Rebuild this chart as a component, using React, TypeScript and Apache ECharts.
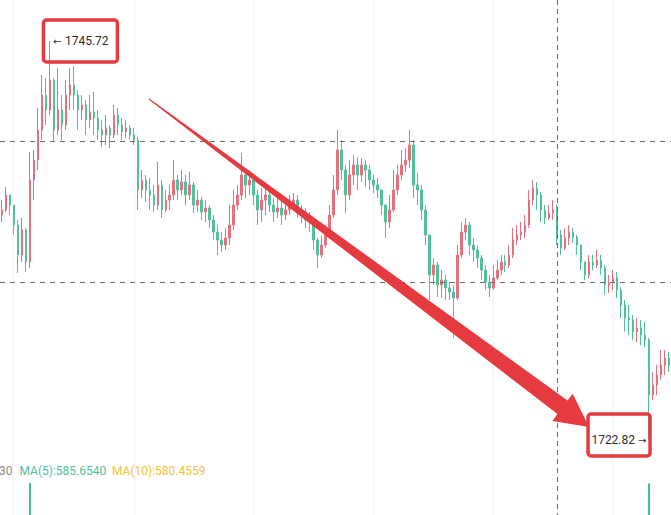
import React, { useEffect, useRef } from "react";
import * as echarts from "echarts";

// ---- data ----
const firstOpen = 1735.71;
const closes = [
  1736.0, 1736.86, 1736.28, 1735.13, 1733.41, 1734.85, 1733.01, 1737.72, 1738.87, 1740.6,
  1742.61, 1741.75, 1743.48, 1740.6, 1741.75, 1740.89, 1742.61, 1743.19, 1742.61, 1741.75,
  1742.04, 1741.18, 1741.64, 1741.29, 1740.6, 1740.31, 1740.72, 1740.31, 1741.46, 1740.89,
  1740.49, 1740.72, 1740.31, 1740.02, 1737.15, 1737.72, 1737.15, 1736.86, 1736.28, 1737.44,
  1736.0, 1736.57, 1736.86, 1737.72, 1737.15, 1737.61, 1736.86, 1737.44, 1736.28, 1736.57,
  1735.88, 1736.11, 1735.42, 1734.73, 1734.27, 1733.98, 1734.39, 1735.13, 1736.28, 1736.86,
  1738.01, 1737.44, 1737.72, 1736.86, 1736.0, 1736.57, 1736.86, 1736.28, 1735.88, 1736.11,
  1735.71, 1736.0, 1736.28, 1736.57, 1736.0, 1735.71, 1735.42, 1735.31, 1734.27, 1733.41,
  1733.98, 1734.56, 1735.71, 1737.15, 1739.45, 1738.3, 1736.86, 1738.01, 1738.59, 1738.01,
  1738.59, 1738.3, 1737.72, 1737.44, 1737.15, 1736.28, 1735.31, 1736.0, 1737.15, 1738.01,
  1738.59, 1738.87, 1739.74, 1737.44, 1737.15, 1736.0, 1734.56, 1732.26, 1732.83, 1731.68,
  1731.97, 1731.51, 1731.28, 1730.93, 1733.41, 1734.73, 1735.13, 1733.98, 1733.7, 1733.23,
  1732.54, 1731.85, 1731.51, 1732.08, 1732.54, 1733.01, 1732.83, 1733.41, 1734.27, 1734.56,
  1734.73, 1735.13, 1736.57, 1737.26, 1736.86, 1736.0, 1735.54, 1735.82, 1736.0, 1734.56,
  1733.81, 1734.39, 1734.73, 1734.44, 1733.98, 1733.01, 1732.26, 1733.01, 1732.83, 1733.12,
  1732.66, 1731.68, 1731.8, 1732.08, 1731.39, 1730.53, 1729.78, 1729.67, 1728.98, 1729.21,
  1728.8, 1728.52, 1725.35, 1725.93, 1726.5, 1727.08, 1727.48, 1727.08,
];
const highs = [
  1736.57, 1737.32, 1736.86, 1736.28, 1735.42, 1735.54, 1734.96, 1739.33, 1739.45, 1741.87,
  1743.76, 1743.59, 1745.72, 1743.59, 1744.17, 1742.61, 1743.48, 1744.17, 1744.28, 1742.9,
  1742.61, 1742.33, 1742.61, 1742.79, 1741.75, 1741.18, 1741.46, 1740.89, 1742.04, 1741.87,
  1741.29, 1741.18, 1740.89, 1740.72, 1740.2, 1738.3, 1738.01, 1737.84, 1737.44, 1738.76,
  1737.72, 1737.15, 1737.44, 1738.87, 1738.01, 1738.3, 1738.01, 1738.18, 1737.61, 1737.15,
  1736.75, 1736.57, 1736.28, 1735.71, 1735.13, 1734.73, 1734.96, 1736.28, 1737.15, 1737.44,
  1739.28, 1738.41, 1738.3, 1737.84, 1737.15, 1737.26, 1737.44, 1737.15, 1736.69, 1736.86,
  1736.57, 1736.69, 1736.86, 1736.97, 1736.86, 1736.28, 1736.11, 1735.88, 1735.54, 1734.39,
  1734.5, 1735.13, 1736.28, 1738.01, 1740.6, 1740.02, 1738.59, 1738.87, 1739.16, 1739.05,
  1738.99, 1738.87, 1738.59, 1738.01, 1737.84, 1737.15, 1736.28, 1736.86, 1738.3, 1738.59,
  1739.45, 1739.56, 1740.6, 1740.02, 1738.13, 1737.44, 1736.28, 1734.56, 1733.23, 1733.01,
  1732.54, 1732.26, 1731.85, 1731.68, 1733.98, 1735.31, 1735.54, 1735.31, 1734.39, 1733.98,
  1733.41, 1732.83, 1732.26, 1732.83, 1733.12, 1733.41, 1733.41, 1733.98, 1734.96, 1735.13,
  1735.31, 1735.71, 1737.15, 1737.72, 1737.61, 1737.03, 1736.28, 1736.28, 1736.57, 1736.28,
  1734.85, 1734.96, 1735.13, 1734.96, 1734.56, 1733.98, 1733.01, 1733.41, 1733.41, 1733.7,
  1733.41, 1732.83, 1732.26, 1732.54, 1732.43, 1731.57, 1730.82, 1730.53, 1729.96, 1729.78,
  1729.67, 1729.55, 1728.63, 1726.68, 1727.08, 1727.94, 1727.94, 1727.83,
];
const lows = [
  1735.31, 1735.88, 1735.71, 1734.56, 1732.37, 1733.01, 1732.43, 1732.66, 1736.57, 1738.3,
  1740.02, 1740.89, 1741.46, 1739.91, 1740.31, 1740.02, 1740.6, 1741.75, 1741.75, 1740.6,
  1741.18, 1740.31, 1740.72, 1740.31, 1740.02, 1739.62, 1739.74, 1739.56, 1740.14, 1740.31,
  1740.02, 1740.14, 1740.02, 1739.74, 1736.0, 1736.69, 1736.46, 1736.0, 1735.88, 1736.0,
  1735.54, 1735.88, 1736.0, 1736.57, 1736.57, 1736.86, 1736.28, 1736.57, 1735.82, 1735.88,
  1735.42, 1735.31, 1734.96, 1734.27, 1733.41, 1733.58, 1733.7, 1733.98, 1734.85, 1736.0,
  1736.57, 1736.69, 1736.86, 1736.28, 1735.13, 1735.31, 1735.71, 1735.88, 1735.31, 1735.54,
  1735.13, 1735.42, 1735.71, 1736.0, 1735.54, 1735.25, 1734.96, 1734.73, 1733.7, 1732.66,
  1733.23, 1733.81, 1734.39, 1735.54, 1736.86, 1737.72, 1735.82, 1736.57, 1737.44, 1737.15,
  1737.61, 1737.32, 1737.15, 1736.97, 1736.69, 1735.71, 1734.39, 1734.96, 1735.88, 1736.86,
  1737.72, 1738.18, 1738.41, 1736.69, 1736.28, 1735.42, 1733.98, 1730.82, 1731.68, 1730.99,
  1730.93, 1730.82, 1730.82, 1728.63, 1730.82, 1733.23, 1734.27, 1733.41, 1733.01, 1732.66,
  1731.97, 1731.39, 1730.99, 1731.39, 1731.97, 1732.26, 1732.43, 1732.66, 1733.23, 1733.98,
  1734.27, 1734.39, 1734.96, 1736.28, 1736.0, 1735.31, 1735.19, 1735.42, 1735.42, 1733.98,
  1733.41, 1733.7, 1733.98, 1734.1, 1733.41, 1732.54, 1731.97, 1732.08, 1732.54, 1732.66,
  1732.26, 1731.11, 1731.22, 1731.39, 1730.93, 1729.78, 1728.98, 1728.8, 1728.52, 1728.4,
  1728.23, 1728.11, 1722.82, 1725.06, 1725.35, 1726.22, 1726.5, 1726.68,
];
const categories = closes.map((_, i) => String(i + 1));
const levelLines = [1739.97, 1731.85];
const crosshairIndex = 139;
const maxIndex = 12;
const minIndex = 162;
const maxLabel = "1745.72";
const minLabel = "1722.82";
const volumeBars = [
  [7, 1000],
  [162, 990],
];
const legendParts = [
  { text: "30", color: "#8c8c8c" },
  { text: "MA(5):585.6540", color: "#4fc29e" },
  { text: "MA(10):580.4559", color: "#f2c23c" },
];

const UP = "#e7707f";
const DOWN = "#4fc29b";
const RED = "#e53a3f";

function buildCandles() {
  return closes.map((c, i) => {
    const o = i === 0 ? firstOpen : closes[i - 1];
    return [o, c, lows[i], highs[i]];
  });
}

export default function App() {
  const ref = useRef<HTMLDivElement>(null);
  useEffect(() => {
    document.body.style.margin = "0";
    const chart = echarts.init(ref.current!, undefined, { renderer: "svg" });
    chart.setOption({
      animation: false,
      backgroundColor: "#ffffff",
      grid: [
        { left: 0, right: 0, top: 0, height: 455 },
        { left: 0, right: 0, top: 483, height: 200 },
      ],
      xAxis: [
        { type: "category", data: categories, show: false, boundaryGap: true, gridIndex: 0 },
        { type: "category", data: categories, show: false, boundaryGap: true, gridIndex: 1 },
      ],
      yAxis: [
        { type: "value", min: 1721.9, max: 1748.08, show: false, gridIndex: 0 },
        { type: "value", min: 0, max: 1000, show: false, gridIndex: 1 },
      ],
      series: [
        {
          type: "candlestick",
          data: buildCandles(),
          barWidth: 2,
          itemStyle: {
            color: UP,
            color0: DOWN,
            borderColor: UP,
            borderColor0: DOWN,
            borderWidth: 1,
          },
          markLine: {
            silent: true,
            symbol: ["none", "none"],
            label: { show: false },
            lineStyle: { color: "#6b6b6b", type: [5, 5], width: 1 },
            data: levelLines.map((v) => ({ yAxis: v })),
          },
        },
        {
          type: "bar",
          xAxisIndex: 1,
          yAxisIndex: 1,
          data: volumeBars,
          barWidth: 2,
          itemStyle: { color: "#3fbf93" },
        },
      ],
    });

    const cx = chart.convertToPixel({ xAxisIndex: 0 }, crosshairIndex) as number;
    const maxPt = chart.convertToPixel({ xAxisIndex: 0, yAxisIndex: 0 }, [maxIndex, highs[maxIndex]]) as number[];
    const minPt = chart.convertToPixel({ xAxisIndex: 0, yAxisIndex: 0 }, [minIndex, lows[minIndex]]) as number[];

    // tapered arrow geometry
    const S = [149, 99];
    const T = [589, 427];
    const dx = T[0] - S[0];
    const dy = T[1] - S[1];
    const len = Math.sqrt(dx * dx + dy * dy);
    const u = [dx / len, dy / len];
    const n = [-u[1], u[0]];
    const headLen = 33;
    const headHalf = 17;
    const baseHalf = 8.5;
    const startHalf = 0.5;
    const B = [T[0] - u[0] * headLen, T[1] - u[1] * headLen];
    const arrowPts = [
      [S[0] + n[0] * startHalf, S[1] + n[1] * startHalf],
      [B[0] + n[0] * baseHalf, B[1] + n[1] * baseHalf],
      [B[0] + n[0] * headHalf, B[1] + n[1] * headHalf],
      [T[0], T[1]],
      [B[0] - n[0] * headHalf, B[1] - n[1] * headHalf],
      [B[0] - n[0] * baseHalf, B[1] - n[1] * baseHalf],
      [S[0] - n[0] * startHalf, S[1] - n[1] * startHalf],
    ];

    const gridV = [13, 135, 254, 374, 493, 613];
    const legendEls: any[] = [];
    const legendX = [12.5, 19.5, 112];
    legendParts.forEach((p, i) => {
      legendEls.push({
        type: "text",
        x: legendX[i],
        y: 471,
        z: 20,
        style: {
          text: p.text,
          fill: p.color,
          fontSize: 12,
          fontFamily: "Roboto",
          align: i === 0 ? "right" : "left",
          verticalAlign: "middle",
        },
      });
    });

    chart.setOption({
      graphic: [
        ...gridV.map((x) => ({
          type: "line",
          z: -10,
          silent: true,
          shape: { x1: x, y1: 0, x2: x, y2: 515 },
          style: { stroke: "#f3f3f3", lineWidth: 1 },
        })),
        {
          type: "line",
          z: 5,
          silent: true,
          shape: { x1: Math.round(cx) + 0.5, y1: 0, x2: Math.round(cx) + 0.5, y2: 515 },
          style: { stroke: "#6b6b6b", lineWidth: 1, lineDash: [5, 4] },
        },
        ...legendEls,
        {
          type: "polygon",
          z: 30,
          silent: true,
          shape: { points: arrowPts },
          style: { fill: RED },
        },
        // top label box
        {
          type: "rect",
          z: 30,
          shape: { x: maxPt[0] - 6.5, y: maxPt[1] - 21, width: 74, height: 42, r: 3 },
          style: { fill: "none", stroke: RED, lineWidth: 3.5 },
        },
        {
          type: "text",
          z: 31,
          x: maxPt[0] + 3,
          y: maxPt[1],
          style: { text: "←", fill: "#333", fontSize: 10, fontFamily: "DejaVu Sans", verticalAlign: "middle" },
        },
        {
          type: "text",
          z: 31,
          x: maxPt[0] + 15,
          y: maxPt[1],
          style: { text: maxLabel, fill: "#2b2b2b", fontSize: 12, fontFamily: "Roboto", verticalAlign: "middle" },
        },
        // bottom label box
        {
          type: "rect",
          z: 30,
          shape: { x: minPt[0] - 61, y: minPt[1] - 25, width: 62, height: 42, r: 3 },
          style: { fill: "none", stroke: RED, lineWidth: 3.5 },
        },
        {
          type: "text",
          z: 31,
          x: minPt[0] - 14,
          y: minPt[1] + 1,
          style: { text: minLabel, fill: "#2b2b2b", fontSize: 12, fontFamily: "Roboto", align: "right", verticalAlign: "middle" },
        },
        {
          type: "text",
          z: 31,
          x: minPt[0] - 11,
          y: minPt[1] + 1,
          style: { text: "→", fill: "#333", fontSize: 10, fontFamily: "DejaVu Sans", verticalAlign: "middle" },
        },
      ],
    });
    return () => chart.dispose();
  }, []);
  return (
    <div
      ref={ref}
      style={{ position: "absolute", left: 0, top: 0, width: 671, height: 515, background: "#fff" }}
    />
  );
}
